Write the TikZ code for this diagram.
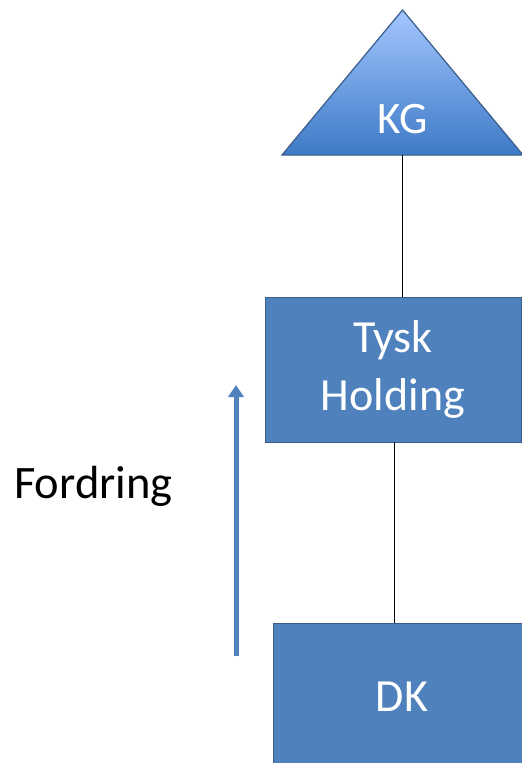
\documentclass[tikz,border=0pt]{standalone}
\usepackage{fontspec}
\setmainfont{Carlito}
\usetikzlibrary{arrows.meta}
\definecolor{boxblue}{HTML}{4F81BD}
\definecolor{boxedge}{HTML}{385D8A}
\definecolor{toplight}{HTML}{A3C6FF}
\definecolor{topdark}{HTML}{3E7AC6}
\tikzset{
  entity/.style={fill=boxblue, draw=boxedge, line width=1.2pt, minimum height=145pt, inner sep=0pt},
  label/.style={text=white, font=\fontsize{46}{58}\selectfont, align=center},
  link/.style={draw=black, line width=1pt}
}
\begin{document}
\begin{tikzpicture}[x=1pt, y=-1pt]

\def\W{522}; % picture width
\def\H{763}; % picture height

\def\xa{402.5}; % apex
\def\ya{10};
\def\xtl{282}; % triangle base left
\def\yt{155}; % triangle base

\useasboundingbox (0,0) rectangle (\W,\H);
\clip (0,0) rectangle (\W,\H);

% KG triangle
\shade[top color=toplight, bottom color=topdark, draw=boxedge, line width=1.2pt]
  (\xa,\ya) -- (\xtl,\yt) -- ({2*\xa-\xtl},\yt) -- cycle;
\node[label, font=\fontsize{45}{58}\selectfont, anchor=base] (kg) at (\xa,133) {KG};
\coordinate (kgbase) at (\xa,\yt);

% boxes
\node[entity, minimum width=256pt, anchor=north west] (tysk) at (265,297) {};
\node[label] (tysktext) at (393,369) {Tysk\\Holding};
\node[entity, minimum width=260pt, minimum height=150pt, anchor=north west] (dk) at (273,623) {};
\node[label, anchor=base] (dktext) at (402,711) {DK};

% connectors
\draw[link] (kgbase) -- (kgbase |- tysk.north);
\draw[link] (394,442) coordinate (tb) -- (tb |- dk.north);

% claim arrow
\coordinate (ab) at (236,656);
\coordinate (at) at (236,385);
\draw[draw=boxblue, line width=5pt, -{Triangle[width=15pt,length=12pt]}] (ab) -- (at);
\node[font=\fontsize{46.5}{55}\selectfont, anchor=base west, inner sep=0pt] (fordring) at (14,498) {Fordring};

\end{tikzpicture}
\end{document}
